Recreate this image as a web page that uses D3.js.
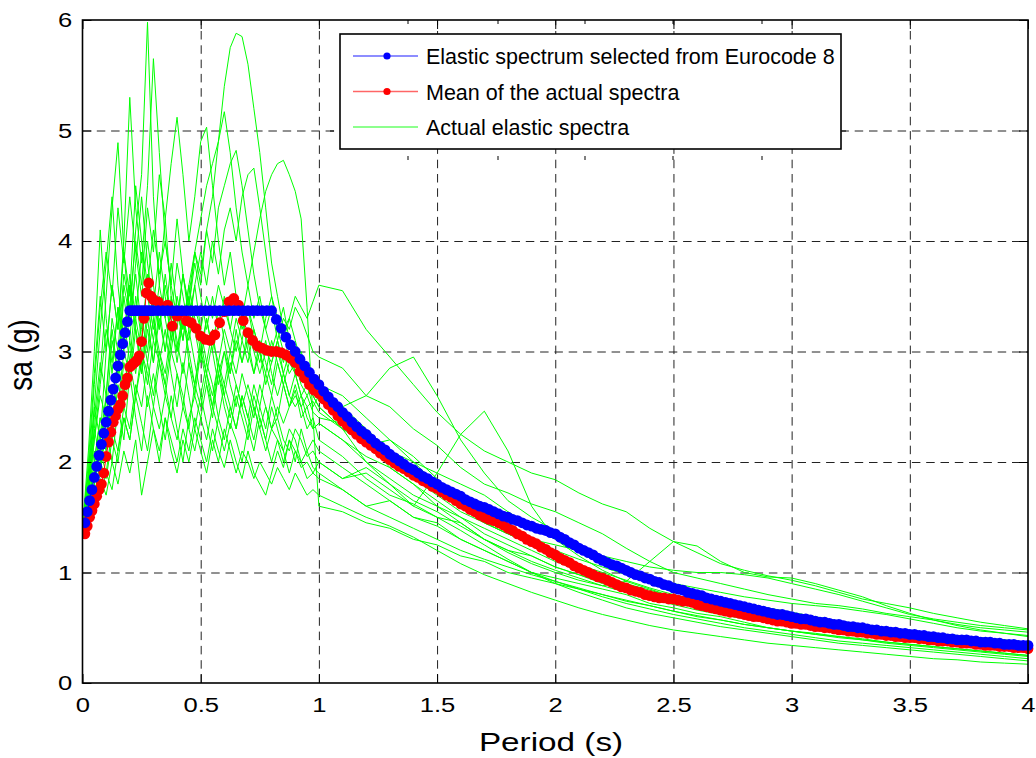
<!DOCTYPE html>
<html>
<head>
<meta charset="utf-8">
<script src="https://cdn.jsdelivr.net/npm/d3@7"></script>
<style>
body { margin: 0; background: #fff; }
svg { display: block; }
text { font-family: "Liberation Sans", Arial, sans-serif; fill: #000; }
</style>
</head>
<body>
<svg width="1036" height="758"></svg>
<script>
// axis ticks and labels
const xTicks = [0, 0.5, 1, 1.5, 2, 2.5, 3, 3.5, 4];
const xTickLabels = ["0", "0.5", "1", "1.5", "2", "2.5", "3", "3.5", "4"];
const yTicks = [0, 1, 2, 3, 4, 5, 6];
const yTickLabels = ["0", "1", "2", "3", "4", "5", "6"];

const legendLabels = ["Elastic spectrum selected from Eurocode 8", "Mean of the actual spectra", "Actual elastic spectra"];

// periods for the EC8 spectrum and the mean spectrum (s)
const meanPeriods = [
  0.01,0.02,0.03,0.04,0.05,0.06,0.07,0.08,0.09,0.10,0.11,0.12,0.13,0.14,0.15,0.16,0.17,0.18,0.19,0.20,
  0.21,0.22,0.23,0.24,0.25,0.26,0.27,0.28,0.29,0.30,
  0.32,0.34,0.36,0.38,0.40,0.42,0.44,0.46,0.48,0.50,0.52,0.54,0.56,0.58,0.60,0.62,0.64,0.66,0.68,0.70,
  0.72,0.74,0.76,0.78,0.80,
  0.82,0.84,0.86,0.88,0.90,0.92,0.94,0.96,0.98,1.00,1.02,1.04,1.06,1.08,1.10,1.12,1.14,1.16,1.18,1.20,
  1.22,1.24,1.26,1.28,1.30,1.32,1.34,1.36,1.38,1.40,1.42,1.44,1.46,1.48,1.50,1.52,1.54,1.56,1.58,1.60,
  1.62,1.64,1.66,1.68,1.70,1.72,1.74,1.76,1.78,1.80,1.82,1.84,1.86,1.88,1.90,1.92,1.94,1.96,1.98,2.00,
  2.02,2.04,2.06,2.08,2.10,2.12,2.14,2.16,2.18,2.20,2.22,2.24,2.26,2.28,2.30,2.32,2.34,2.36,2.38,2.40,
  2.42,2.44,2.46,2.48,2.50,2.52,2.54,2.56,2.58,2.60,2.62,2.64,2.66,2.68,2.70,2.72,2.74,2.76,2.78,2.80,
  2.82,2.84,2.86,2.88,2.90,2.92,2.94,2.96,2.98,3.00,3.02,3.04,3.06,3.08,3.10,3.12,3.14,3.16,3.18,3.20,
  3.22,3.24,3.26,3.28,3.30,3.32,3.34,3.36,3.38,3.40,3.42,3.44,3.46,3.48,3.50,3.52,3.54,3.56,3.58,3.60,
  3.62,3.64,3.66,3.68,3.70,3.72,3.74,3.76,3.78,3.80,3.82,3.84,3.86,3.88,3.90,3.92,3.94,3.96,3.98,4.00
];

// Eurocode 8 elastic spectrum (g)
const ec8Sa = [
  1.45,1.55,1.65,1.75,1.86,1.96,2.06,2.16,2.26,2.36,2.46,2.56,2.66,2.76,2.87,2.97,3.07,3.17,3.27,3.37,
  3.37,3.37,3.37,3.37,3.37,3.37,3.37,3.37,3.37,3.37,
  3.37,3.37,3.37,3.37,3.37,3.37,3.37,3.37,3.37,3.37,3.37,3.37,3.37,3.37,3.37,3.37,3.37,3.37,3.37,3.37,
  3.37,3.37,3.37,3.37,3.37,
  3.29,3.21,3.13,3.06,3.00,2.93,2.87,2.81,2.75,2.70,2.64,2.59,2.54,2.50,2.45,2.41,2.36,2.32,2.28,2.25,
  2.21,2.17,2.14,2.11,2.07,2.04,2.01,1.98,1.95,1.93,1.90,1.87,1.85,1.82,1.80,1.77,1.75,1.73,1.71,1.69,
  1.66,1.64,1.62,1.60,1.59,1.57,1.55,1.53,1.51,1.50,1.48,1.47,1.45,1.43,1.42,1.40,1.39,1.38,1.36,1.35,
  1.32,1.30,1.27,1.25,1.22,1.20,1.18,1.16,1.13,1.11,1.09,1.07,1.06,1.04,1.02,1.00,0.98,0.97,0.95,0.94,
  0.92,0.91,0.89,0.88,0.86,0.85,0.84,0.82,0.81,0.80,0.79,0.77,0.76,0.75,0.74,0.73,0.72,0.71,0.70,0.69,
  0.68,0.67,0.66,0.65,0.64,0.63,0.62,0.62,0.61,0.60,0.59,0.58,0.58,0.57,0.56,0.55,0.55,0.54,0.53,0.53,
  0.52,0.51,0.51,0.50,0.50,0.49,0.48,0.48,0.47,0.47,0.46,0.46,0.45,0.45,0.44,0.44,0.43,0.43,0.42,0.42,
  0.41,0.41,0.40,0.40,0.39,0.39,0.39,0.38,0.38,0.37,0.37,0.37,0.36,0.36,0.35,0.35,0.35,0.34,0.34,0.34
];

// mean of the actual spectra (g)
const meanSa = [
  1.35,1.42,1.50,1.56,1.62,1.69,1.75,1.80,1.90,2.05,2.18,2.27,2.36,2.42,2.48,2.52,2.60,2.70,2.76,2.86,
  2.88,2.90,2.92,2.96,3.09,3.30,3.53,3.62,3.50,3.47,
  3.45,3.40,3.42,3.23,3.32,3.36,3.28,3.26,3.21,3.14,3.11,3.10,3.15,3.26,3.36,3.45,3.48,3.42,3.28,3.17,
  3.10,3.05,3.03,3.01,3.00,
  3.00,2.99,2.97,2.94,2.90,2.82,2.76,2.70,2.65,2.62,2.57,2.52,2.47,2.42,2.37,2.33,2.29,2.25,2.21,2.18,
  2.15,2.12,2.08,2.05,2.02,1.99,1.96,1.94,1.91,1.88,1.86,1.83,1.81,1.78,1.76,1.73,1.70,1.68,1.65,1.62,
  1.60,1.57,1.55,1.52,1.50,1.48,1.47,1.45,1.43,1.40,1.38,1.35,1.33,1.30,1.28,1.26,1.23,1.21,1.18,1.16,
  1.13,1.11,1.09,1.06,1.04,1.02,1.00,0.98,0.96,0.95,0.93,0.91,0.89,0.87,0.86,0.84,0.83,0.82,0.80,0.79,
  0.78,0.77,0.77,0.76,0.76,0.75,0.74,0.74,0.73,0.71,0.70,0.69,0.68,0.67,0.66,0.65,0.64,0.64,0.63,0.62,
  0.61,0.60,0.60,0.59,0.58,0.57,0.56,0.56,0.55,0.54,0.54,0.53,0.53,0.52,0.51,0.51,0.50,0.50,0.49,0.48,
  0.48,0.47,0.47,0.46,0.46,0.45,0.45,0.44,0.44,0.43,0.43,0.42,0.42,0.41,0.41,0.41,0.40,0.40,0.39,0.39,
  0.38,0.38,0.38,0.37,0.37,0.36,0.36,0.36,0.35,0.35,0.34,0.34,0.34,0.33,0.33,0.33,0.32,0.32,0.32,0.31
];

// periods of the recorded spectra (s)
const specPeriods = [
  0,0.025,0.05,0.075,0.1,0.125,0.15,0.175,0.2,0.225,0.25,0.275,0.3,0.325,0.35,0.375,0.4,0.425,0.45,0.475,
  0.5,0.525,0.55,0.575,0.6,0.625,0.65,0.675,0.7,0.725,0.75,0.775,0.8,0.825,0.85,0.875,0.9,0.925,0.95,0.975,1.0,
  1.1,1.2,1.3,1.4,1.5,1.6,1.7,1.8,1.9,2.0,2.1,2.2,2.3,2.4,2.5,2.6,2.7,2.8,2.9,3.0,
  3.1,3.2,3.3,3.4,3.5,3.6,3.7,3.8,3.9,4.0
];

// actual elastic spectra, one row per record (g)
const actualSpectra = [
  [1.38,1.7,2.2,2.6,2.4,3.1,2.8,3.6,3.3,4.1,4.6,5.98,4.4,3.6,4.2,3.5,3.0,3.4,2.9,2.6,3.0,2.7,2.4,2.8,2.5,2.3,2.6,2.4,2.2,2.5,2.3,2.1,2.3,2.2,2.0,2.2,2.1,1.95,2.0,1.9,1.85,
   1.75,1.6,1.65,1.5,1.45,1.3,1.2,1.1,1.0,0.95,0.9,0.85,0.8,0.72,0.68,0.63,0.6,0.55,0.5,0.47,0.45,0.42,0.4,0.37,0.35,0.33,0.31,0.29,0.27,0.25],
  [1.42,1.9,2.5,2.2,3.0,3.6,3.2,4.0,5.3,4.3,3.8,4.5,5.65,4.8,4.0,3.6,4.2,3.7,3.3,3.6,3.2,2.9,3.2,2.8,3.0,2.7,2.5,2.8,2.6,2.4,2.7,2.5,2.3,2.4,2.2,2.1,2.3,2.2,2.05,2.1,2.0,
   1.85,1.95,1.8,1.6,1.5,1.45,1.3,1.2,1.15,1.05,0.98,0.9,0.85,0.8,0.74,0.7,0.65,0.6,0.57,0.54,0.5,0.48,0.46,0.43,0.41,0.39,0.37,0.35,0.33,0.31],
  [1.36,1.6,1.9,2.3,2.1,2.6,2.4,2.9,2.7,3.2,2.9,3.4,3.1,3.5,3.3,3.0,3.4,3.2,3.6,3.9,3.7,4.1,4.4,4.9,5.4,5.75,5.88,5.85,5.6,5.2,4.8,4.3,3.8,3.5,3.2,3.3,3.1,2.9,2.7,2.6,2.5,
   2.3,2.0,1.85,1.7,1.6,1.5,1.35,1.25,1.15,1.05,0.98,0.92,0.86,0.8,0.75,0.7,0.66,0.62,0.58,0.55,0.52,0.5,0.47,0.45,0.43,0.41,0.39,0.37,0.36,0.34],
  [1.4,1.55,1.8,2.1,1.9,2.3,2.1,2.5,2.3,2.7,2.5,2.9,2.6,3.0,2.8,3.2,3.0,3.3,3.1,3.4,3.2,3.5,3.3,3.6,3.4,3.2,3.5,3.3,3.6,3.9,4.2,4.45,4.6,4.7,4.73,4.6,4.45,4.2,3.4,2.4,1.6,
   1.55,1.45,1.4,1.3,1.25,1.15,1.1,1.0,0.95,0.9,0.85,0.8,0.74,0.7,0.65,0.6,0.57,0.53,0.5,0.47,0.44,0.42,0.39,0.37,0.35,0.33,0.31,0.29,0.27,0.25],
  [1.4,1.8,2.4,2.9,2.6,3.3,3.0,3.7,3.4,4.0,3.6,4.3,3.9,4.6,4.2,4.7,5.12,4.6,4.0,4.4,4.9,5.03,4.5,4.0,3.6,3.9,3.5,3.2,3.4,3.1,2.9,3.1,2.8,2.6,2.8,2.6,2.5,2.6,2.4,2.3,2.35,
   2.2,2.05,1.95,1.8,1.65,1.5,1.4,1.3,1.2,1.1,1.02,0.94,0.88,0.82,0.76,0.72,0.67,0.63,0.6,0.56,0.53,0.5,0.48,0.46,0.43,0.41,0.39,0.37,0.35,0.33],
  [1.35,1.7,2.3,2.8,3.5,4.3,4.89,3.9,3.3,3.7,3.2,2.9,3.3,3.0,2.7,3.1,3.4,3.1,3.5,3.9,4.2,4.5,4.7,4.9,5.17,4.8,4.3,3.9,3.6,3.3,3.5,3.2,3.0,3.2,3.0,2.8,2.9,2.7,2.6,2.7,2.55,
   2.5,2.3,2.1,1.95,1.8,1.65,1.5,1.4,1.3,1.2,1.12,1.05,0.98,0.9,0.84,0.78,0.74,0.7,0.66,0.62,0.58,0.55,0.52,0.5,0.47,0.45,0.43,0.41,0.39,0.37],
  [1.4,1.6,2.0,2.4,2.2,2.7,2.5,3.0,2.8,3.3,3.0,2.7,3.1,2.9,2.6,3.0,2.8,2.5,2.9,2.7,3.0,2.8,3.1,2.9,3.2,3.0,3.3,3.1,3.4,3.2,3.0,3.3,3.5,3.3,3.1,3.3,3.5,3.4,3.3,3.45,3.6,
   3.55,3.2,2.95,2.7,2.45,2.25,2.1,2.0,1.9,1.84,1.72,1.62,1.55,1.4,1.28,1.18,1.08,1.02,0.97,0.93,0.88,0.82,0.76,0.72,0.68,0.63,0.59,0.55,0.52,0.49],
  [1.45,1.7,2.1,1.9,2.4,2.2,2.7,2.5,2.9,2.6,3.0,2.8,2.5,2.9,2.7,2.4,2.8,2.6,2.3,2.7,2.5,2.8,2.6,2.9,2.7,3.0,2.8,3.1,2.9,3.2,3.0,2.8,3.1,2.9,2.7,2.9,2.8,2.6,2.7,2.5,2.6,
   2.5,2.6,2.85,2.95,2.6,2.2,1.9,1.65,1.5,1.38,1.25,1.12,1.02,0.95,0.88,0.82,0.77,0.72,0.68,0.64,0.6,0.56,0.53,0.5,0.47,0.45,0.42,0.4,0.38,0.36],
  [1.38,1.5,1.7,2.0,1.85,2.2,2.0,2.4,2.2,2.6,2.35,2.1,2.5,2.3,2.6,2.4,2.2,2.5,2.3,2.1,2.4,2.2,2.5,2.3,2.1,2.35,2.2,2.0,2.3,2.1,2.4,2.2,2.0,2.2,2.1,1.9,2.1,2.0,1.85,1.9,2.0,
   1.85,1.9,1.75,1.6,1.9,2.25,2.46,2.1,1.6,1.3,1.15,1.02,0.92,0.85,0.78,0.72,0.67,0.63,0.59,0.55,0.52,0.49,0.46,0.44,0.41,0.39,0.37,0.35,0.33,0.32],
  [1.33,1.45,1.6,1.85,1.7,2.0,1.8,2.1,1.9,2.2,1.7,2.0,2.3,2.1,2.4,2.2,2.0,2.3,2.1,2.4,2.2,2.0,2.3,2.1,1.95,2.2,2.0,1.85,2.1,1.9,1.8,1.7,1.9,2.1,1.95,2.2,2.0,2.3,2.1,2.2,2.1,
   1.95,1.8,1.65,1.5,1.42,1.3,1.2,1.1,1.0,0.92,0.85,0.78,0.72,0.67,0.62,0.58,0.54,0.5,0.47,0.44,0.41,0.38,0.36,0.34,0.32,0.3,0.28,0.26,0.24,0.22],
  [1.4,2.1,3.0,4.1,3.3,2.8,3.4,3.0,3.6,3.2,2.8,3.3,2.9,3.4,3.0,3.5,3.2,3.7,3.4,3.9,3.6,4.1,3.8,4.3,4.5,4.7,4.82,4.5,4.1,3.7,3.4,3.2,3.4,3.1,2.9,3.1,2.8,2.9,2.7,2.8,2.6,
   2.4,2.15,2.0,1.85,1.7,1.55,1.45,1.35,1.25,1.15,1.07,1.0,0.93,0.86,0.8,0.75,0.7,0.66,0.62,0.58,0.55,0.52,0.5,0.47,0.45,0.43,0.41,0.39,0.37,0.36],
  [1.42,1.65,2.0,2.4,2.2,2.6,2.9,2.6,3.1,2.8,3.3,3.0,3.5,3.2,3.6,3.3,3.8,3.5,3.2,3.6,3.9,3.6,4.0,3.7,4.1,4.3,4.0,4.4,4.6,4.66,4.3,3.9,3.5,3.2,3.4,3.1,2.9,3.0,2.8,2.6,2.5,
   2.3,2.2,1.95,1.8,1.6,1.45,1.3,1.18,1.08,1.0,0.93,0.88,0.92,1.1,1.28,1.24,1.1,1.0,0.96,0.95,0.9,0.84,0.78,0.7,0.63,0.57,0.52,0.48,0.45,0.42],
  [1.37,1.9,2.7,3.4,3.9,3.5,4.3,3.8,4.4,3.9,3.5,4.0,3.6,3.2,3.7,3.3,2.9,3.3,3.0,2.7,3.1,2.8,2.5,2.9,2.6,2.4,2.7,2.5,2.3,2.6,2.4,2.2,2.5,2.3,2.1,2.3,2.2,2.0,2.1,1.95,1.9,
   1.75,1.6,1.5,1.4,1.3,1.2,1.12,1.05,0.98,0.92,0.86,0.8,0.75,0.7,0.65,0.61,0.57,0.53,0.5,0.47,0.44,0.41,0.39,0.36,0.34,0.32,0.3,0.28,0.26,0.24],
  [1.44,1.8,2.3,2.0,2.6,3.2,2.8,3.5,3.1,3.8,4.4,3.8,3.4,3.9,3.5,3.1,3.5,3.2,3.6,3.3,3.0,3.3,3.0,2.7,3.0,2.8,3.1,2.9,3.2,3.0,2.8,3.0,2.9,3.1,3.3,3.2,3.4,3.3,3.15,3.0,2.95,
   2.85,2.6,2.5,2.3,2.15,1.95,1.8,1.72,1.62,1.55,1.45,1.35,1.22,1.1,1.0,0.95,0.9,0.85,0.8,0.76,0.72,0.7,0.67,0.63,0.6,0.57,0.53,0.5,0.48,0.46],
  [1.36,1.55,1.8,2.2,2.6,2.3,2.9,3.3,2.9,3.5,3.1,3.7,3.3,2.9,3.2,2.8,2.5,2.9,2.6,2.3,2.6,2.35,2.1,2.4,2.2,2.5,2.3,2.6,2.4,2.7,2.5,2.8,2.6,2.9,2.7,2.5,2.7,2.5,2.3,2.4,2.2,
   2.05,1.85,1.7,1.62,1.5,1.38,1.25,1.12,1.0,0.9,0.82,0.75,0.68,0.63,0.59,0.55,0.51,0.48,0.45,0.42,0.39,0.36,0.34,0.32,0.3,0.28,0.26,0.24,0.22,0.2],
  [1.4,1.8,2.5,3.2,3.8,4.4,3.6,3.1,3.6,3.2,2.8,3.2,2.9,3.3,3.0,3.4,3.1,2.8,3.2,2.9,2.6,2.9,2.7,2.4,2.7,2.5,2.3,2.6,2.4,2.2,2.5,2.3,2.6,2.4,2.7,2.5,2.65,2.4,2.5,2.3,2.35,
   2.2,2.0,1.8,1.65,1.55,1.42,1.3,1.2,1.1,1.02,0.95,0.88,0.82,0.76,0.71,0.66,0.62,0.58,0.55,0.52,0.49,0.46,0.43,0.41,0.38,0.36,0.34,0.32,0.3,0.28],
  [1.35,1.45,1.55,1.7,1.9,1.75,2.1,2.4,2.2,2.6,2.9,2.5,2.8,2.5,2.2,2.6,2.3,2.0,2.4,2.6,2.4,2.7,2.5,2.8,2.6,2.9,2.7,2.5,2.7,2.5,2.3,2.5,2.3,2.5,2.35,2.5,2.6,2.5,2.6,2.45,2.4,
   2.35,2.2,2.1,2.0,1.9,1.8,1.7,1.55,1.42,1.3,1.18,1.08,1.0,0.95,0.9,0.86,0.82,0.78,0.75,0.72,0.7,0.68,0.65,0.62,0.58,0.54,0.5,0.47,0.45,0.43],
  [1.39,2.0,2.8,3.5,3.0,3.6,3.2,3.9,3.5,4.5,4.0,3.6,4.1,3.7,4.0,3.6,3.3,3.7,3.4,3.8,3.5,3.2,3.5,3.2,3.5,3.2,3.0,3.3,3.0,2.8,3.1,2.9,2.7,3.0,2.8,2.6,2.8,2.6,2.5,2.55,2.45,
   2.3,2.15,2.2,2.0,1.8,1.6,1.45,1.35,1.25,1.15,1.06,0.98,0.9,0.84,0.78,0.73,0.69,0.65,0.61,0.58,0.55,0.52,0.49,0.47,0.44,0.42,0.4,0.38,0.36,0.34],
  [1.41,1.75,2.2,2.7,3.2,2.9,3.4,3.1,3.7,3.3,3.9,3.5,3.2,3.6,3.3,3.8,3.4,3.1,3.5,3.2,2.9,3.3,3.0,3.4,3.1,2.8,3.2,2.9,3.1,2.8,3.0,2.7,2.9,3.1,2.8,3.0,2.8,2.9,2.7,2.75,2.7,
   2.6,2.4,2.2,2.05,1.85,1.6,1.45,1.35,1.3,1.25,1.2,1.15,1.1,1.05,1.02,1.0,1.0,0.98,0.95,0.9,0.85,0.8,0.74,0.68,0.62,0.58,0.55,0.52,0.5,0.48],
  [1.34,1.5,1.7,1.9,2.3,2.0,2.5,2.2,2.8,2.4,2.1,2.6,2.3,2.0,2.4,2.1,1.9,2.2,2.0,2.3,2.1,1.9,2.2,2.0,2.3,2.1,1.9,2.1,2.0,1.85,2.0,1.9,1.8,1.95,1.85,1.75,1.9,1.8,1.7,1.75,1.7,
   1.6,1.5,1.42,1.32,1.2,1.08,0.98,0.9,0.82,0.75,0.68,0.62,0.57,0.52,0.48,0.45,0.42,0.39,0.36,0.34,0.32,0.3,0.28,0.26,0.24,0.22,0.21,0.19,0.18,0.17]
];

const svg = d3.select("svg");
const W = 1036, H = 758;
const plotL = 82.5, plotR = 1028, plotT = 20, plotB = 683;

const x = d3.scaleLinear().domain([0, 4]).range([plotL, plotR]);
const y = d3.scaleLinear().domain([0, 6]).range([plotB, plotT]);

svg.append("rect").attr("width", W).attr("height", H).attr("fill", "#fff");

svg.append("defs").append("clipPath").attr("id", "plot")
  .append("rect").attr("x", plotL).attr("y", plotT - 6).attr("width", plotR - plotL + 6).attr("height", plotB - plotT + 6);

// dashed grid
const grid = svg.append("g").attr("class", "grid");
grid.append("g").attr("transform", `translate(0,${plotB})`)
  .call(d3.axisBottom(x).tickValues(xTicks.slice(1, -1)).tickSize(-(plotB - plotT)).tickFormat(""));
grid.append("g").attr("transform", `translate(${plotL},0)`)
  .call(d3.axisLeft(y).tickValues(yTicks.slice(1, -1)).tickSize(-(plotR - plotL)).tickFormat(""));
grid.selectAll(".domain").remove();
grid.selectAll(".tick line")
  .attr("stroke", "#222").attr("stroke-width", 1).attr("stroke-dasharray", "8.5,5.8");

// data
const plot = svg.append("g").attr("clip-path", "url(#plot)");
const line = d3.line().x(d => x(d[0])).y(d => y(d[1]));

plot.selectAll("path.actual")
  .data(actualSpectra)
  .join("path")
  .attr("class", "actual")
  .attr("d", s => line(s.map((v, i) => [specPeriods[i], v])))
  .attr("fill", "none")
  .attr("stroke", "#00ff00")
  .attr("stroke-width", 1);

function markedLine(values, color) {
  const pts = values.map((v, i) => [meanPeriods[i], v]);
  plot.append("path")
    .attr("d", line(pts))
    .attr("fill", "none")
    .attr("stroke", color)
    .attr("stroke-width", 1);
  plot.append("g").selectAll("circle")
    .data(pts)
    .join("circle")
    .attr("cx", d => x(d[0]))
    .attr("cy", d => y(d[1]))
    .attr("r", 5.4)
    .attr("fill", color);
}
markedLine(meanSa, "#ff0000");
markedLine(ec8Sa, "#0000ff");

// box and inward ticks
const tickLen = 9;
const xa = svg.append("g").attr("transform", `translate(0,${plotB})`)
  .call(d3.axisBottom(x).tickValues(xTicks).tickSizeInner(-tickLen).tickSizeOuter(0)
    .tickPadding(14).tickFormat((d, i) => xTickLabels[i]));
const ya = svg.append("g").attr("transform", `translate(${plotL},0)`)
  .call(d3.axisLeft(y).tickValues(yTicks).tickSizeInner(-tickLen).tickSizeOuter(0)
    .tickPadding(8.4).tickFormat((d, i) => yTickLabels[i]));
svg.append("g").attr("transform", `translate(0,${plotT})`)
  .call(d3.axisTop(x).tickValues(xTicks).tickSizeInner(-tickLen).tickSizeOuter(0).tickFormat(""));
svg.append("g").attr("transform", `translate(${plotR},0)`)
  .call(d3.axisRight(y).tickValues(yTicks).tickSizeInner(-tickLen).tickSizeOuter(0).tickFormat(""));
svg.selectAll(".domain").remove();
svg.selectAll(".tick line").filter(function () { return !this.closest(".grid"); })
  .attr("stroke", "#000").attr("stroke-width", 1);
[xa, ya].forEach(a => a.selectAll("text")
  .attr("font-size", 21)
  .attr("font-family", '"Liberation Sans", Arial, sans-serif')
  .attr("transform", "scale(1.22,1)"));

svg.append("rect")
  .attr("x", plotL).attr("y", plotT)
  .attr("width", plotR - plotL).attr("height", plotB - plotT)
  .attr("fill", "none").attr("stroke", "#000").attr("stroke-width", 1.6);

// axis titles
svg.append("text")
  .attr("transform", `translate(551,751) scale(1.28,1)`)
  .attr("text-anchor", "middle")
  .attr("font-size", 26)
  .text("Period (s)");
svg.append("text")
  .attr("transform", `translate(31.5,355) scale(1.2,1) rotate(-90)`)
  .attr("text-anchor", "middle")
  .attr("font-size", 28)
  .text("sa (g)");

// legend
const lg = svg.append("g");
// stray tick marks of the legend axes
[408, 498, 585, 673, 762].forEach(tx => {
  lg.append("line").attr("x1", tx).attr("x2", tx).attr("y1", plotT).attr("y2", plotT + 4).attr("stroke", "#000");
  lg.append("line").attr("x1", tx).attr("x2", tx).attr("y1", 156).attr("y2", 160).attr("stroke", "#000");
});
lg.append("line").attr("x1", 330).attr("x2", 334).attr("y1", 131).attr("y2", 131).attr("stroke", "#000");
lg.append("line").attr("x1", 842).attr("x2", 846).attr("y1", 131).attr("y2", 131).attr("stroke", "#000");

lg.append("rect")
  .attr("x", 340).attr("y", 34).attr("width", 501).attr("height", 115)
  .attr("fill", "#fff").attr("stroke", "#000").attr("stroke-width", 1.6);

const legendColors = ["#0000ff", "#ff0000", "#00ff00"];
const legendMarker = [true, true, false];
const rowY = d3.scalePoint().domain(d3.range(legendLabels.length)).range([56, 127]);
legendLabels.forEach((lab, i) => {
  const yy = rowY(i);
  lg.append("line").attr("x1", 353).attr("x2", 418).attr("y1", yy).attr("y2", yy)
    .attr("stroke", legendColors[i]).attr("stroke-opacity", 0.6).attr("stroke-width", 1.3);
  if (legendMarker[i]) {
    lg.append("circle").attr("cx", 387).attr("cy", yy).attr("r", 3.6).attr("fill", legendColors[i]);
  }
  lg.append("text").attr("x", 426).attr("y", yy + 8).attr("font-size", 21.5).text(lab);
});
</script>
</body>
</html>
